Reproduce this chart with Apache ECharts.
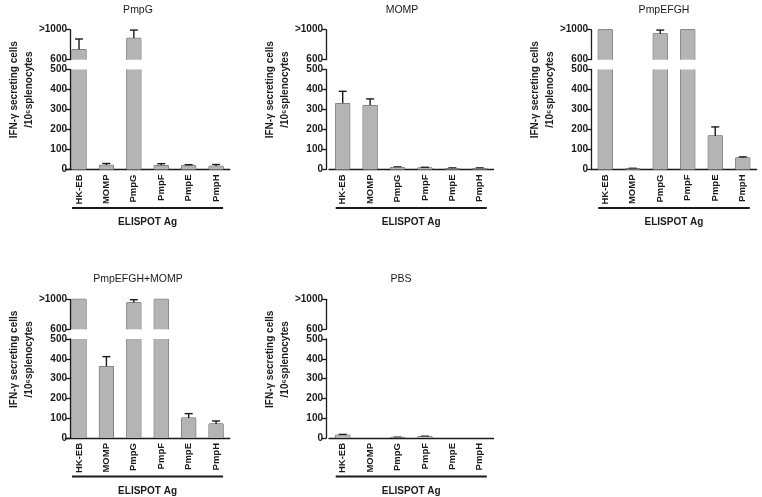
<!DOCTYPE html>
<html>
<head>
<meta charset="utf-8">
<script src="https://cdn.jsdelivr.net/npm/echarts@6/dist/echarts.min.js"></script>
<style>html,body{margin:0;padding:0;background:#fff}#c{width:762px;height:497px}</style>
</head>
<body>
<div id="c"></div>
<script>
// ---- data ----
const categories = ['HK-EB', 'MOMP', 'PmpG', 'PmpF', 'PmpE', 'PmpH'];
const panelTitles = ['PmpG', 'MOMP', 'PmpEFGH', 'PmpEFGH+MOMP', 'PBS'];
// mean values (1000 = ">1000", top of the broken axis) and top of error bar (SEM)
const pmpgMean = [734, 21, 885, 20, 19, 16];
const pmpgErr = [876, 30, 995, 29, 24, 25];
const mompMean = [330, 320, 10, 8, 5, 5];
const mompErr = [391, 353, 13, 11, 8, 8];
const pmpefghMean = [1000, 4, 945, 1000, 168, 58];
const pmpefghErr = [null, 6, 995, null, 213, 63];
const comboMean = [1000, 361, 954, 1000, 101, 71];
const comboErr = [null, 411, 995, null, 123, 86];
const pbsMean = [14, 0, 3, 7, 0, 0];
const pbsErr = [18, null, 4, 9, null, null];
const lowerTicks = [0, 100, 200, 300, 400, 500];
const upperTicks = [600, 1000];
const upperTickLabels = ['600', '>1000'];
const xAxisName = 'ELISPOT Ag';
const yAxisName = 'IFN-\u03b3 secreting cells\n/10\u2076splenocytes';

// ---- layout ----
const FONT = '"Liberation Sans", Arial, sans-serif';
const BAR_W = 14;
const FILL = '#b4b4b4', EDGE = '#555555', INK = '#1a1a1a';
const rows = [
  { upperTop: 29.7, lowerTop: 69.5 },
  { upperTop: 299.3, lowerTop: 339 }
];
const UPPER_H = 30, LOWER_H = 100;
const panels = [
  { mean: pmpgMean, err: pmpgErr, left: 65.3, width: 164.5, axisX: 70, row: 0, titleX: 138 },
  { mean: mompMean, err: mompErr, left: 329, width: 164.5, axisX: 326, row: 0, titleX: 402 },
  { mean: pmpefghMean, err: pmpefghErr, left: 591.5, width: 165, axisX: 591, row: 0, titleX: 664 },
  { mean: comboMean, err: comboErr, left: 65.3, width: 164.5, axisX: 70, row: 1, titleX: 138 },
  { mean: pbsMean, err: pbsErr, left: 329, width: 164.5, axisX: 326, row: 1, titleX: 401 }
];

function makeRender(lo, hi) {
  return function (params, api) {
    const i = api.value(0), v = api.value(1), e = api.value(2);
    const base = api.coord([i, lo]);
    const cx = base[0], yLo = base[1], h = BAR_W / 2;
    const children = [];
    const edgeStyle = { stroke: EDGE, fill: null, lineWidth: 1 };
    if (v > lo) {
      const yTop = api.coord([i, Math.min(v, hi)])[1];
      if (v <= hi) {
        children.push({ type: 'polyline', shape: { points: [[cx - h, yLo], [cx - h, yTop], [cx + h, yTop], [cx + h, yLo]] }, style: edgeStyle });
      } else {
        children.push({ type: 'line', shape: { x1: cx - h, y1: yLo, x2: cx - h, y2: yTop }, style: edgeStyle });
        children.push({ type: 'line', shape: { x1: cx + h, y1: yLo, x2: cx + h, y2: yTop }, style: edgeStyle });
      }
    }
    if (isFinite(e) && e > lo) {
      const from = Math.max(v, lo), to = Math.min(e, hi);
      if (to > from) {
        const y1 = api.coord([i, from])[1], y2 = api.coord([i, to])[1];
        const st = { stroke: INK, lineWidth: 1.4 };
        children.push({ type: 'line', shape: { x1: cx, y1: y1, x2: cx, y2: y2 }, style: st });
        if (e <= hi) children.push({ type: 'line', shape: { x1: cx - 4, y1: y2, x2: cx + 4, y2: y2 }, style: st });
      }
    }
    return { type: 'group', children: children };
  };
}

const grid = [], xAxis = [], yAxis = [], series = [], graphic = [];
panels.forEach(function (p, k) {
  const r = rows[p.row];
  const gU = grid.length;
  grid.push({ left: p.left, top: r.upperTop, width: p.width, height: UPPER_H });
  grid.push({ left: p.left, top: r.lowerTop, width: p.width, height: LOWER_H });
  const gL = gU + 1;
  const off = p.left - p.axisX;
  const axisLine = { show: true, lineStyle: { color: INK, width: 1.3 } };
  const lab = { color: INK, fontFamily: FONT, fontWeight: 'bold', fontSize: 10, margin: 3 };
  xAxis.push({ type: 'category', gridIndex: gU, data: categories, show: false });
  xAxis.push({
    type: 'category', gridIndex: gL, data: categories,
    axisLine: axisLine, axisTick: { show: false },
    axisLabel: { rotate: 90, color: INK, fontFamily: FONT, fontWeight: 'bold', fontSize: 9.5, margin: 5, interval: 0 },
    name: xAxisName, nameLocation: 'middle', nameGap: 48,
    nameTextStyle: { color: INK, fontFamily: FONT, fontWeight: 'bold', fontSize: 10 }
  });
  yAxis.push({
    type: 'value', gridIndex: gU, min: upperTicks[0], max: upperTicks[1], offset: off,
    axisLine: axisLine, splitLine: { show: false },
    axisTick: { show: true, length: 4, lineStyle: { color: INK, width: 1.3 }, customValues: upperTicks },
    axisLabel: Object.assign({}, lab, { customValues: upperTicks, formatter: function (v) { return upperTickLabels[upperTicks.indexOf(v)]; } })
  });
  yAxis.push({
    type: 'value', gridIndex: gL, min: lowerTicks[0], max: lowerTicks[lowerTicks.length - 1], interval: lowerTicks[1] - lowerTicks[0], offset: off,
    axisLine: axisLine, splitLine: { show: false },
    axisTick: { show: true, length: 4, lineStyle: { color: INK, width: 1.3 } },
    axisLabel: lab
  });
  [[gU, upperTicks[0], upperTicks[1]], [gL, lowerTicks[0], lowerTicks[lowerTicks.length - 1]]].forEach(function (g) {
    series.push({
      type: 'bar', xAxisIndex: g[0], yAxisIndex: g[0], data: p.mean, barWidth: BAR_W, clip: true,
      itemStyle: { color: FILL, borderWidth: 0 }, silent: true, animation: false
    });
    series.push({
      type: 'custom', xAxisIndex: g[0], yAxisIndex: g[0], clip: false, silent: true, animation: false,
      renderItem: makeRender(g[1], g[2]),
      encode: { x: 0, y: 1 },
      data: categories.map(function (c, i) { return [i, p.mean[i], p.err[i] == null ? NaN : p.err[i]]; })
    });
  });
  graphic.push({
    type: 'text', x: p.titleX, y: r.upperTop - 20,
    style: { text: panelTitles[k], font: '10.5px ' + FONT, fill: INK, align: 'center', verticalAlign: 'middle' }
  });
  graphic.push({
    type: 'text', x: p.axisX - 48, y: r.upperTop + 60, rotation: Math.PI / 2,
    style: { text: yAxisName, font: 'bold 10px ' + FONT, fill: INK, align: 'center', verticalAlign: 'middle', lineHeight: 15 }
  });
});

const chart = echarts.init(document.getElementById('c'), null, { renderer: 'canvas' });
chart.setOption({ animation: false, backgroundColor: '#fff', grid: grid, xAxis: xAxis, yAxis: yAxis, series: series, graphic: graphic });

// bracket line under the category labels, spanning the first to last bar
const extra = graphic.slice();
panels.forEach(function (p, k) {
  const xi = k * 2 + 1;
  const a = chart.convertToPixel({ xAxisIndex: xi, yAxisIndex: xi }, [0, 0]);
  const b = chart.convertToPixel({ xAxisIndex: xi, yAxisIndex: xi }, [categories.length - 1, 0]);
  extra.push({ type: 'line', shape: { x1: a[0] - BAR_W / 2, y1: a[1] + 38.5, x2: b[0] + BAR_W / 2, y2: a[1] + 38.5 }, style: { stroke: INK, lineWidth: 2 } });
});
chart.setOption({ graphic: extra });
</script>
</body>
</html>
